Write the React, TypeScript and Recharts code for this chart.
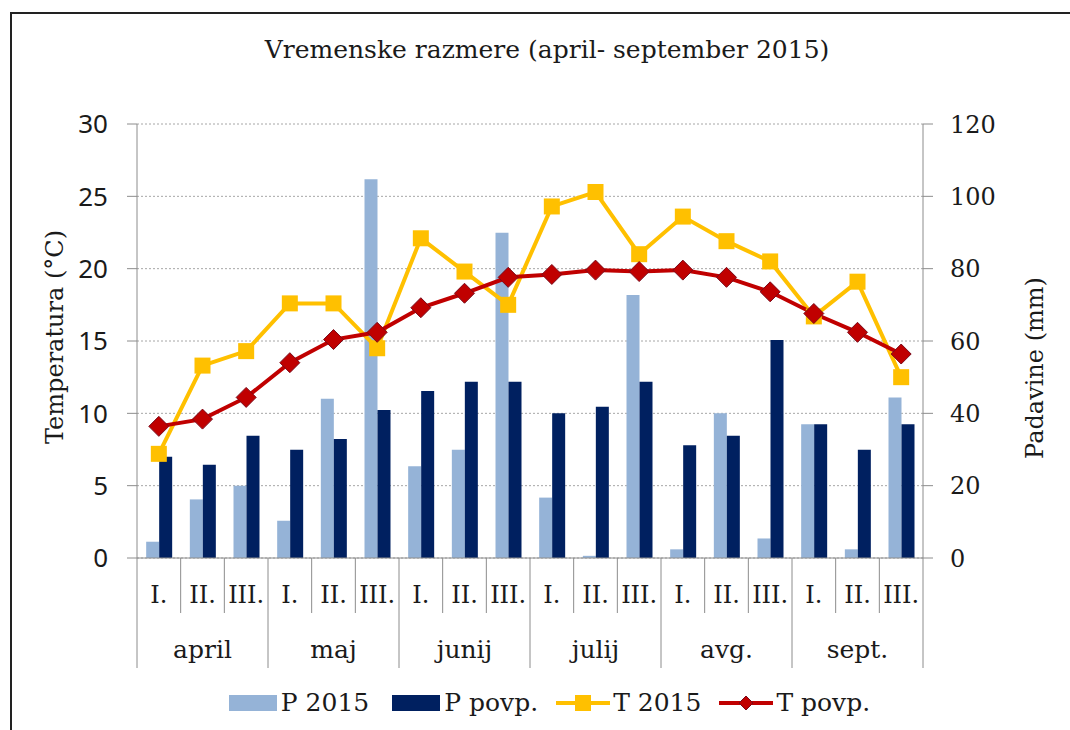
import {
  ComposedChart,
  Bar,
  Line,
  XAxis,
  YAxis,
  CartesianGrid,
  Legend,
} from "recharts";

const months = ["april", "maj", "junij", "julij", "avg.", "sept."];
const decades = ["I.", "II.", "III."];

// padavine (mm), po dekadah
const p2015 = [4.5, 16.2, 20, 10.3, 44, 104.7, 25.4, 29.9, 89.9, 16.7, 0.6, 72.7, 2.4, 40, 5.4, 37, 2.4, 44.4];
const pPovp = [28, 25.8, 33.8, 29.9, 32.9, 40.9, 46.2, 48.7, 48.7, 40, 41.8, 48.7, 31.2, 33.8, 60.3, 37, 29.9, 37];
// temperatura (°C)
const t2015 = [7.2, 13.3, 14.3, 17.6, 17.6, 14.5, 22.1, 19.8, 17.5, 24.3, 25.3, 21, 23.6, 21.9, 20.5, 16.7, 19.1, 12.5];
const tPovp = [9.1, 9.6, 11.1, 13.5, 15.1, 15.6, 17.3, 18.3, 19.4, 19.6, 19.9, 19.8, 19.9, 19.4, 18.4, 16.9, 15.6, 14.1];

const tempTicks = [0, 5, 10, 15, 20, 25, 30];
const rainTicks = [0, 20, 40, 60, 80, 100, 120];

const data = p2015.map((_, i) => ({
  key: months[Math.floor(i / 3)] + " " + decades[i % 3],
  p2015: p2015[i],
  pPovp: pPovp[i],
  t2015: t2015[i],
  tPovp: tPovp[i],
}));

const serif = "DejaVu Serif";
const W = 1070;
const H = 730;
const plotLeft = 137;
const plotRight = 923;
const band = (plotRight - plotLeft) / data.length;
const axisGray = "#8c8c8c";

const colors = {
  p2015: "#95B3D7",
  pPovp: "#002060",
  t2015: "#FFC000",
  tPovp: "#C00000",
};

const DecadeTick = (props: any) => {
  const { x, y, index } = props;
  const left = x - band / 2;
  const right = x + band / 2;
  const isMonthStart = index % 3 === 0;
  return (
    <g>
      <line x1={left} y1={y} x2={left} y2={y + (isMonthStart ? 110 : 55)} stroke={axisGray} />
      {index === data.length - 1 && (
        <line x1={right} y1={y} x2={right} y2={y + 110} stroke={axisGray} />
      )}
      <text x={x} y={y + 45} textAnchor="middle" fontFamily={serif} fontSize={24} fill="#1a1a1a">
        {decades[index % 3]}
      </text>
      {index % 3 === 1 && (
        <text x={x} y={y + 100} textAnchor="middle" fontFamily={serif} fontSize={25} fill="#1a1a1a">
          {months[Math.floor(index / 3)]}
        </text>
      )}
    </g>
  );
};

const SquareDot = (props: any) => {
  const { cx, cy, index } = props;
  return <rect key={"sq" + index} x={cx - 8} y={cy - 8} width={16} height={16} fill={colors.t2015} />;
};

const DiamondDot = (props: any) => {
  const { cx, cy, index } = props;
  const r = 10;
  return (
    <polygon
      key={"dm" + index}
      points={`${cx},${cy - r} ${cx + r},${cy} ${cx},${cy + r} ${cx - r},${cy}`}
      fill={colors.tPovp}
      stroke="#7a0a1a"
      strokeWidth={1}
    />
  );
};

const legendItems = [
  { name: "P 2015", kind: "bar", color: colors.p2015 },
  { name: "P povp.", kind: "bar", color: colors.pPovp },
  { name: "T 2015", kind: "square", color: colors.t2015 },
  { name: "T povp.", kind: "diamond", color: colors.tPovp },
];

const LegendContent = () => (
  <div style={{ display: "flex", justifyContent: "center", alignItems: "center", gap: 18 }}>
    {legendItems.map((it) => (
      <div key={it.name} style={{ display: "flex", alignItems: "center" }}>
        <svg width={54} height={20} style={{ marginRight: 3 }}>
          {it.kind === "bar" && <rect x={5} y={2} width={48} height={16} fill={it.color} />}
          {it.kind !== "bar" && <line x1={0} y1={10} x2={54} y2={10} stroke={it.color} strokeWidth={4} />}
          {it.kind === "square" && <rect x={19} y={2} width={16} height={16} fill={it.color} />}
          {it.kind === "diamond" && (
            <polygon points="27,3 34,10 27,17 20,10" fill={it.color} stroke="#7a0a1a" strokeWidth={1} />
          )}
        </svg>
        <span style={{ fontFamily: serif, fontSize: 25, color: "#1a1a1a" }}>{it.name}</span>
      </div>
    ))}
  </div>
);

export default function App() {
  return (
    <div
      style={{
        position: "fixed",
        left: 0,
        top: 0,
        width: W,
        height: H,
        overflow: "hidden",
        background: "#fff",
      }}
    >
      <div
        style={{
          position: "absolute",
          left: 10,
          top: 12,
          width: W + 50,
          height: H + 50,
          border: "2px solid #222",
        }}
      />
      <div
        style={{
          position: "absolute",
          left: 0,
          width: W,
          top: 35,
          textAlign: "center",
          fontFamily: serif,
          fontSize: 25,
          color: "#1a1a1a",
          paddingLeft: 24,
          boxSizing: "border-box",
        }}
      >
        Vremenske razmere (april- september 2015)
      </div>
      <div
        style={{
          position: "absolute",
          left: 55,
          top: 337,
          transform: "translate(-50%, -50%) rotate(-90deg)",
          whiteSpace: "nowrap",
          fontFamily: serif,
          fontSize: 24,
          color: "#1a1a1a",
        }}
      >
        Temperatura (°C)
      </div>
      <div
        style={{
          position: "absolute",
          left: 1035,
          top: 368,
          transform: "translate(-50%, -50%) rotate(-90deg)",
          whiteSpace: "nowrap",
          fontFamily: serif,
          fontSize: 24,
          color: "#1a1a1a",
        }}
      >
        Padavine (mm)
      </div>
      <div style={{ position: "absolute", left: 0, top: 0 }}>
        <ComposedChart
          width={W}
          height={H}
          data={data}
          margin={{ top: 124, right: 0, bottom: 62, left: 0 }}
          barCategoryGap="21%"
          barGap={0}
        >
          <CartesianGrid yAxisId="left" vertical={false} stroke="#a6a6a6" strokeDasharray="2 2" />
          <XAxis
            dataKey="key"
            interval={0}
            height={110}
            tickSize={0}
            tickMargin={0}
            tickLine={false}
            axisLine={{ stroke: axisGray }}
            tick={<DecadeTick />}
          />
          <YAxis
            yAxisId="left"
            orientation="left"
            width={137}
            domain={[0, 30]}
            ticks={tempTicks}
            interval={0}
            tickSize={10}
            tickMargin={19}
            axisLine={{ stroke: axisGray }}
            tickLine={{ stroke: axisGray }}
            tick={{ fontFamily: "Noto Sans", fontSize: 26, fill: "#1a1a1a" }}
          />
          <YAxis
            yAxisId="right"
            orientation="right"
            width={147}
            domain={[0, 120]}
            ticks={rainTicks}
            interval={0}
            tickSize={10}
            tickMargin={17}
            axisLine={{ stroke: axisGray }}
            tickLine={{ stroke: axisGray }}
            tick={{ fontFamily: serif, fontSize: 24, fill: "#1a1a1a" }}
          />
          <Bar yAxisId="right" dataKey="p2015" name="P 2015" fill={colors.p2015} isAnimationActive={false} />
          <Bar yAxisId="right" dataKey="pPovp" name="P povp." fill={colors.pPovp} isAnimationActive={false} />
          <Line
            yAxisId="left"
            dataKey="t2015"
            name="T 2015"
            type="linear"
            stroke={colors.t2015}
            strokeWidth={4}
            dot={SquareDot}
            activeDot={false}
            isAnimationActive={false}
          />
          <Line
            yAxisId="left"
            dataKey="tPovp"
            name="T povp."
            type="linear"
            stroke={colors.tPovp}
            strokeWidth={4}
            dot={DiamondDot}
            activeDot={false}
            isAnimationActive={false}
          />
          <Legend
            layout="horizontal"
            verticalAlign="middle"
            align="center"
            wrapperStyle={{ top: 688, left: 0, width: W, paddingLeft: 24, boxSizing: "border-box" }}
            content={<LegendContent />}
          />
        </ComposedChart>
      </div>
    </div>
  );
}
